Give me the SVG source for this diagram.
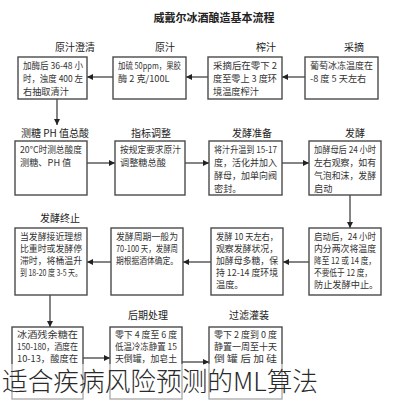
<svg xmlns="http://www.w3.org/2000/svg" width="412" height="400" viewBox="0 0 412 400">
<style>
.bx{fill:#fff;stroke:#4a4a4a;stroke-width:1.4}
.lb{font-family:"Noto Sans CJK SC","Noto Sans",sans-serif;font-size:10px;fill:#222;text-anchor:middle}
.t{font-family:"Noto Sans CJK SC","Noto Sans",sans-serif;font-size:9.2px;fill:#333}
.ttl{font-family:"Noto Sans CJK SC","Noto Sans",sans-serif;font-size:11px;font-weight:bold;fill:#222;text-anchor:middle}
.cn{stroke:#333;stroke-width:1.2;fill:none;marker-end:url(#ah)}
</style>
<defs>
<marker id="ah" markerWidth="6" markerHeight="6" refX="6" refY="3" orient="auto" markerUnits="userSpaceOnUse">
<path d="M0,0 L6,3 L0,6 z" fill="#222"/>
</marker>
</defs>
<rect width="412" height="400" fill="#fff"/>
<text class="ttl" x="214" y="22">威戴尔冰酒酿造基本流程</text>

<g id="connectors">
<line class="cn" x1="305" y1="77" x2="282" y2="77"/>
<line class="cn" x1="208" y1="77" x2="186" y2="77"/>
<line class="cn" x1="113" y1="77" x2="87" y2="77"/>
<line class="cn" x1="57" y1="99" x2="57" y2="125"/>
<line class="cn" x1="87" y1="163" x2="115" y2="163"/>
<line class="cn" x1="185" y1="163" x2="209" y2="163"/>
<line class="cn" x1="282" y1="163" x2="309" y2="163"/>
<line class="cn" x1="350" y1="195" x2="350" y2="228"/>
<line class="cn" x1="309" y1="262" x2="283" y2="262"/>
<line class="cn" x1="211" y1="262" x2="183" y2="262"/>
<line class="cn" x1="111" y1="262" x2="87" y2="262"/>
<line class="cn" x1="50" y1="295" x2="50" y2="327"/>
<line class="cn" x1="83" y1="358" x2="110" y2="358"/>
<line class="cn" x1="182" y1="362" x2="209" y2="362"/>
</g>

<g id="n-caizhai">
<text class="lb" x="354" y="51">采摘</text>
<rect class="bx" x="305" y="57" width="73" height="42"/>
<text class="t" x="310" y="69" textLength="63" lengthAdjust="spacingAndGlyphs">葡萄冰冻温度在</text>
<text class="t" x="310" y="82">-8 度 5 天左右</text>
</g>
<g id="n-zhazhi">
<text class="lb" x="266" y="51">榨汁</text>
<rect class="bx" x="208" y="57" width="74" height="42"/>
<text class="t" x="213" y="69" textLength="64" lengthAdjust="spacingAndGlyphs">采摘后在零下 2</text>
<text class="t" x="213" y="82" textLength="64" lengthAdjust="spacingAndGlyphs">度至零上 3 度环</text>
<text class="t" x="213" y="95">境温度榨汁</text>
</g>
<g id="n-yuanzhi">
<text class="lb" x="165" y="51">原汁</text>
<rect class="bx" x="113" y="57" width="73" height="42"/>
<text class="t" x="118" y="69" textLength="63" lengthAdjust="spacingAndGlyphs">加硫 50ppm，果胶</text>
<text class="t" x="118" y="82">酶 2 克/100L</text>
</g>
<g id="n-chengqing">
<text class="lb" x="75" y="51">原汁澄清</text>
<rect class="bx" x="18" y="57" width="69" height="42"/>
<text class="t" x="23" y="69" textLength="60" lengthAdjust="spacingAndGlyphs">加酶后 36-48 小</text>
<text class="t" x="23" y="82" textLength="60" lengthAdjust="spacingAndGlyphs">时，浊度 400 左</text>
<text class="t" x="23" y="95">右抽取清汁</text>
</g>

<g id="n-cetang">
<text class="lb" x="55" y="137">测糖 PH 值总酸</text>
<rect class="bx" x="15" y="141" width="72" height="54"/>
<text class="t" x="20" y="153" textLength="62" lengthAdjust="spacingAndGlyphs">20°C时测总酸度</text>
<text class="t" x="20" y="166">测糖、PH 值</text>
</g>
<g id="n-zhibiao">
<text class="lb" x="151" y="137">指标调整</text>
<rect class="bx" x="115" y="141" width="70" height="54"/>
<text class="t" x="120" y="153" textLength="61" lengthAdjust="spacingAndGlyphs">按规定要求原汁</text>
<text class="t" x="120" y="166">调整糖总酸</text>
</g>
<g id="n-zhunbei">
<text class="lb" x="252" y="137">发酵准备</text>
<rect class="bx" x="209" y="141" width="73" height="54"/>
<text class="t" x="214" y="153" textLength="63" lengthAdjust="spacingAndGlyphs">将汁升温到 15-17</text>
<text class="t" x="214" y="166" textLength="63" lengthAdjust="spacingAndGlyphs">度，活化并加入</text>
<text class="t" x="214" y="179" textLength="63" lengthAdjust="spacingAndGlyphs">酵母，加单向阀</text>
<text class="t" x="214" y="192">密封。</text>
</g>
<g id="n-fajiao">
<text class="lb" x="355" y="137">发酵</text>
<rect class="bx" x="309" y="141" width="72" height="54"/>
<text class="t" x="314" y="153" textLength="62" lengthAdjust="spacingAndGlyphs">加酵母后 24 小时</text>
<text class="t" x="314" y="166" textLength="62" lengthAdjust="spacingAndGlyphs">左右观察，如有</text>
<text class="t" x="314" y="179" textLength="62" lengthAdjust="spacingAndGlyphs">气泡和沫，发酵</text>
<text class="t" x="314" y="192">启动</text>
</g>

<g id="n-jiangwen">
<rect class="bx" x="309" y="228" width="72" height="67"/>
<text class="t" x="314" y="240" textLength="62" lengthAdjust="spacingAndGlyphs">启动后，24 小时</text>
<text class="t" x="314" y="252" textLength="62" lengthAdjust="spacingAndGlyphs">内分两次将温度</text>
<text class="t" x="314" y="264" textLength="62" lengthAdjust="spacingAndGlyphs">降至 12 或 14 度，</text>
<text class="t" x="314" y="276" textLength="58" lengthAdjust="spacingAndGlyphs">不要低于 12 度，</text>
<text class="t" x="314" y="288">防止发酵中止。</text>
</g>
<g id="n-guancha">
<rect class="bx" x="211" y="228" width="72" height="67"/>
<text class="t" x="216" y="240" textLength="62" lengthAdjust="spacingAndGlyphs">发酵 10 天左右，</text>
<text class="t" x="216" y="252" textLength="62" lengthAdjust="spacingAndGlyphs">观察发酵状况，</text>
<text class="t" x="216" y="264" textLength="62" lengthAdjust="spacingAndGlyphs">加酵母多糖，保</text>
<text class="t" x="216" y="276" textLength="62" lengthAdjust="spacingAndGlyphs">持 12-14 度环境</text>
<text class="t" x="216" y="288">温度。</text>
</g>
<g id="n-zhouqi">
<rect class="bx" x="111" y="228" width="72" height="67"/>
<text class="t" x="116" y="240" textLength="62" lengthAdjust="spacingAndGlyphs">发酵周期一般为</text>
<text class="t" x="116" y="252" textLength="62" lengthAdjust="spacingAndGlyphs">70-100 天，发酵周</text>
<text class="t" x="116" y="264" textLength="62" lengthAdjust="spacingAndGlyphs">期根据酒体确定。</text>
</g>
<g id="n-zhongzhi">
<text class="lb" x="60" y="222">发酵终止</text>
<rect class="bx" x="15" y="228" width="72" height="67"/>
<text class="t" x="20" y="240" textLength="62" lengthAdjust="spacingAndGlyphs">当发酵接近理想</text>
<text class="t" x="20" y="252" textLength="62" lengthAdjust="spacingAndGlyphs">比重时或发酵停</text>
<text class="t" x="20" y="264" textLength="62" lengthAdjust="spacingAndGlyphs">滞时，将桶温升</text>
<text class="t" x="20" y="276" textLength="62" lengthAdjust="spacingAndGlyphs">到 18-20 度 3-5 天。</text>
</g>

<g id="n-canyu">
<rect class="bx" x="12" y="327" width="71" height="72"/>
<text class="t" x="17" y="338" textLength="61" lengthAdjust="spacingAndGlyphs">冰酒残余糖在</text>
<text class="t" x="17" y="350" textLength="61" lengthAdjust="spacingAndGlyphs">150-180，酒度在</text>
<text class="t" x="17" y="362" textLength="61" lengthAdjust="spacingAndGlyphs">10-13，酸度在</text>
</g>
<g id="n-houqi">
<text class="lb" x="148" y="319">后期处理</text>
<rect class="bx" x="110" y="327" width="72" height="72"/>
<text class="t" x="115" y="338" textLength="62" lengthAdjust="spacingAndGlyphs">零下 4 度至 6 度</text>
<text class="t" x="115" y="350" textLength="62" lengthAdjust="spacingAndGlyphs">低温冷冻静置 15</text>
<text class="t" x="115" y="362" textLength="62" lengthAdjust="spacingAndGlyphs">天倒罐，加皂土</text>
</g>
<g id="n-guolv">
<text class="lb" x="249" y="319">过滤灌装</text>
<rect class="bx" x="209" y="327" width="73" height="72"/>
<text class="t" x="214" y="338" textLength="63" lengthAdjust="spacingAndGlyphs">零下 2 度到 0 度</text>
<text class="t" x="214" y="350" textLength="63" lengthAdjust="spacingAndGlyphs">静置一周至十天</text>
<text class="t" x="214" y="362" textLength="63" lengthAdjust="spacingAndGlyphs">倒 罐 后 加 硅</text>
</g>

<rect x="0" y="364" width="330" height="36" fill="#fff" opacity="0.55"/>
<text x="2" y="391" font-family="Noto Sans CJK SC, Noto Sans, sans-serif" font-size="26" font-weight="300" fill="#2a2a2a" textLength="316" lengthAdjust="spacingAndGlyphs">适合疾病风险预测的ML算法</text>
</svg>
